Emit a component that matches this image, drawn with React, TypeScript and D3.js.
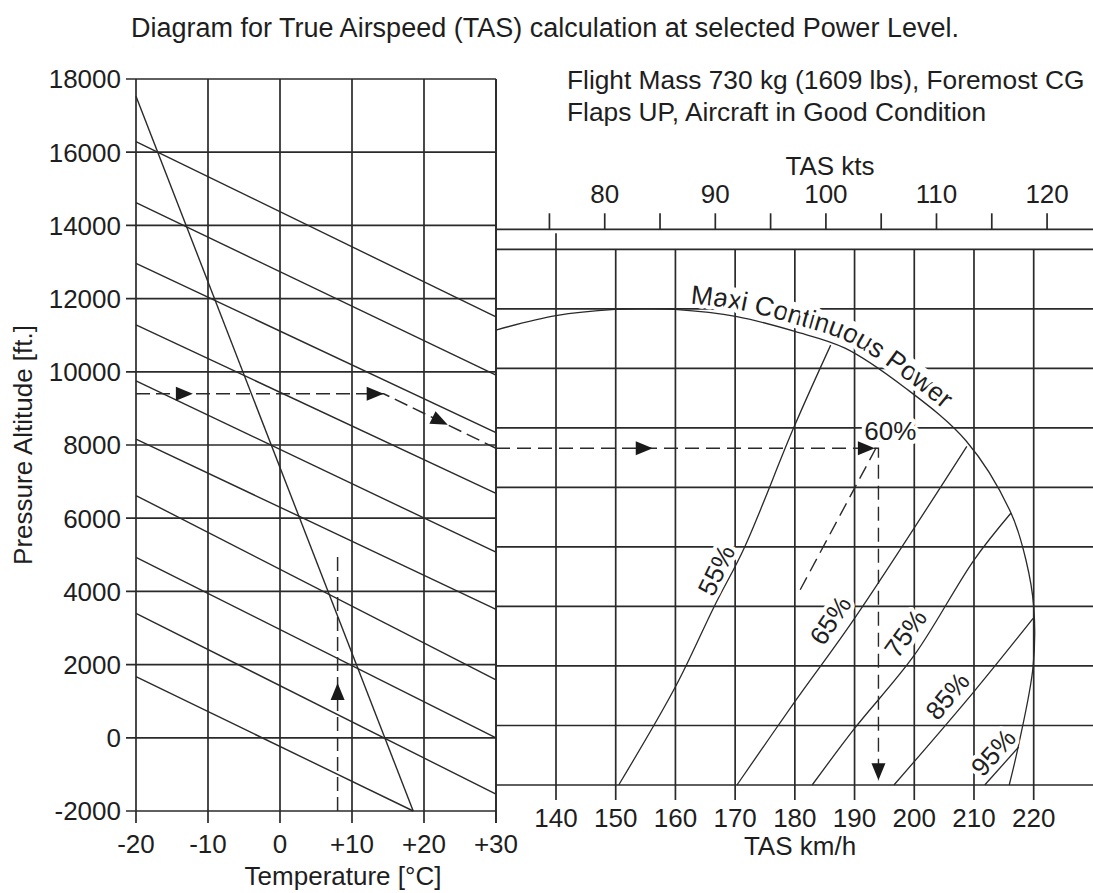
import React from "react";
import * as d3 from "d3";

// ---------- Left panel: pressure altitude vs temperature ----------
const tempTicks = [-20, -10, 0, 10, 20, 30];
const tempLabels = ["-20", "-10", "0", "+10", "+20", "+30"];
const altTicks = [-2000, 0, 2000, 4000, 6000, 8000, 10000, 12000, 14000, 16000, 18000];

// density-altitude lines (start at -20 °C, end on right edge or bottom)
const daStartAlt = [16290, 14620, 12960, 11280, 9750, 8160, 6620, 4930, 3400, 1670];
const daEndTemp = [30, 30, 30, 30, 30, 30, 30, 30, 30, 18.5];
const daEndAlt = [11500, 9910, 8340, 6680, 5070, 3510, 1580, 0, -1540, -2000];

// ISA line
const isaTemp = [-20, 18.5];
const isaAlt = [17530, -2000];

// example readout (left)
const readTemp = [-20, 14.4, 30];
const readAlt = [9400, 9400, 7910];
const oatTemp = 8;
const oatAlt = [-2000, 4990];

// ---------- Right panel: TAS ----------
const kmhTicks = [140, 150, 160, 170, 180, 190, 200, 210, 220];
const ktsTicks = [75, 80, 85, 90, 95, 100, 105, 110, 115, 120];
const ktsLabelTicks = [80, 90, 100, 110, 120];
const rowLines = [0, 1, 2, 3, 4, 5, 6, 7, 8, 9];

// Maxi Continuous Power envelope
const mcpKmh = [129.95, 140, 149.9, 155, 159.9, 170.3, 180, 188.4, 198.5, 208.7, 216.2, 218.7, 220, 219.9, 217.4, 215.9];
const mcpRow = [7.644, 7.885, 7.99, 8.0, 7.99, 7.87, 7.62, 7.34, 6.67, 5.78, 4.57, 3.78, 3.0, 1.99, 0.64, 0];

// power-setting lines
const p55Kmh = [150.5, 160, 166.5, 171.6, 179.8, 186];
const p55Row = [0, 1.65, 3, 4, 6, 7.39];
const p65Kmh = [170.3, 180, 190, 208.8];
const p65Row = [0, 1.4, 2.8, 5.69];
const p75Kmh = [182.9, 190, 200, 210, 216.2];
const p75Row = [0, 0.95, 2.18, 3.78, 4.57];
const p85Kmh = [196.6, 210, 219.9];
const p85Row = [0, 1.57, 2.8];
const p95Kmh = [211.8, 217.5];
const p95Row = [0, 0.64];
const p60Kmh = [180.9, 194.6];
const p60Row = [3.28, 5.85];

const pctLabels = ["55%", "65%", "75%", "85%", "95%"];

// example readout (right)
const readTasKmh = 194.0;
const readEndRow = 0.08;

const FONT = "'Liberation Sans', Arial, Helvetica, sans-serif";
const INK = "#2a2a2a";
const TXT = "#1e1e1e";

const zip = (a: number[], b: number[]) => a.map((v, i) => [v, b[i]]);

function Arrow({ x, y, angle }: { x: number; y: number; angle: number }) {
  return (
    <path
      d="M0,0 L-17,-7 L-17,7 Z"
      fill="#1a1a1a"
      transform={`translate(${x},${y}) rotate(${angle})`}
    />
  );
}

export default function App() {
  const W = 1093;
  const H = 893;

  const xT = d3.scaleLinear().domain([-20, 30]).range([136, 496]);
  const yA = d3.scaleLinear().domain([-2000, 18000]).range([811, 79]);
  const xK = d3.scaleLinear().domain([140, 220]).range([556, 1033.7]);
  const yR = d3.scaleLinear().domain([0, 9]).range([785, 249.3]);
  const KT = 1.852;

  const leftLine = d3.line<number[]>().x((d) => xT(d[0])).y((d) => yA(d[1]));
  const rightLine = d3.line<number[]>().x((d) => xK(d[0])).y((d) => yR(d[1]));
  const rightCurve = d3
    .line<number[]>()
    .x((d) => xK(d[0]))
    .y((d) => yR(d[1]))
    .curve(d3.curveCatmullRom.alpha(0.5));
  const pxCurve = d3.line<number[]>().curve(d3.curveCatmullRom.alpha(0.5));

  const leftX0 = xT(-20);
  const leftX1 = xT(30);
  const rightX0 = leftX1;
  const ktsAxisY = yR(9) - 20;

  // readout connection into right panel
  const rowStart = yR.invert(yA(readAlt[2]));
  const kmhStart = xK.invert(rightX0);
  const readRight = [
    [kmhStart, rowStart],
    [readTasKmh, rowStart],
    [readTasKmh, readEndRow],
  ];

  // label path for "Maxi Continuous Power"
  const cx = xK(157);
  const cy = yR(2.6);
  const mcpPx = zip(mcpKmh, mcpRow).map((d) => [xK(d[0]), yR(d[1])]);
  const offsetPts = (off: number) =>
    mcpPx.map(([x, y]) => {
      const dx = x - cx;
      const dy = y - cy;
      const L = Math.hypot(dx, dy);
      return [x + (dx / L) * off, y + (dy / L) * off] as [number, number];
    });
  const labelOff = 7;
  const bandOff = 16.5;
  const labelStart = 200;
  const scaleBand = 1.03;

  const powerSets = [
    zip(p55Kmh, p55Row),
    zip(p65Kmh, p65Row),
    zip(p75Kmh, p75Row),
    zip(p85Kmh, p85Row),
    zip(p95Kmh, p95Row),
  ];
  const pctPos = [
    [166.8, 3.61],
    [185.9, 2.77],
    [198.5, 2.55],
    [205.5, 1.5],
    [213.2, 0.55],
  ];

  const angleOf = (pts: number[][], X: (v: number) => number, Y: (v: number) => number) => {
    const a = pts[0];
    const b = pts[pts.length - 1];
    return (Math.atan2(Y(b[1]) - Y(a[1]), X(b[0]) - X(a[0])) * 180) / Math.PI;
  };

  // left arrows
  const slantAngle = angleOf([[readTemp[1], readAlt[1]], [readTemp[2], readAlt[2]]], xT, yA);
  const slantTipT = 23.3;
  const slantTipA =
    readAlt[1] + ((slantTipT - readTemp[1]) / (readTemp[2] - readTemp[1])) * (readAlt[2] - readAlt[1]);

  const halo = { stroke: "#fff", strokeWidth: 8, paintOrder: "stroke" as const, strokeLinejoin: "round" as const };

  return (
    <svg
      width={W}
      height={H}
      style={{ position: "absolute", left: 0, top: 0, background: "#fff" }}
      fontFamily={FONT}
    >
      <rect x={0} y={0} width={W} height={H} fill="#fff" />

      {/* Title */}
      <text x={545} y={37} textAnchor="middle" fontSize={27} fill={TXT}>
        Diagram for True Airspeed (TAS) calculation at selected Power Level.
      </text>
      <text x={567} y={89} fontSize={26.3} fill={TXT}>
        Flight Mass 730 kg (1609 lbs), Foremost CG
      </text>
      <text x={567} y={121} fontSize={26.3} fill={TXT}>
        Flaps UP, Aircraft in Good Condition
      </text>

      {/* ---------- Left panel grid ---------- */}
      <g stroke={INK} strokeWidth={1.7} fill="none">
        {altTicks.map((a) => (
          <line key={"ha" + a} x1={leftX0 - 10} x2={leftX1} y1={yA(a)} y2={yA(a)} />
        ))}
        {tempTicks.map((t) => (
          <line key={"vt" + t} x1={xT(t)} x2={xT(t)} y1={yA(18000)} y2={yA(-2000) + 12} />
        ))}
      </g>

      {/* density altitude lines + ISA */}
      <g stroke={INK} strokeWidth={1.4} fill="none">
        {daStartAlt.map((a, i) => (
          <path key={"da" + i} d={leftLine([[-20, a], [daEndTemp[i], daEndAlt[i]]]) || ""} />
        ))}
        <path d={leftLine(zip(isaTemp, isaAlt)) || ""} />
      </g>

      {/* left readout */}
      <g stroke={INK} strokeWidth={1.5} fill="none" strokeDasharray="14,6">
        <path d={leftLine(zip(readTemp, readAlt)) || ""} />
        <path d={leftLine([[oatTemp, oatAlt[0]], [oatTemp, oatAlt[1]]]) || ""} />
      </g>
      <Arrow x={xT(-12.1)} y={yA(readAlt[0])} angle={0} />
      <Arrow x={xT(readTemp[1])} y={yA(readAlt[1])} angle={0} />
      <Arrow x={xT(slantTipT)} y={yA(slantTipA)} angle={slantAngle} />
      <Arrow x={xT(oatTemp)} y={yA(1500)} angle={-90} />

      {/* left axes labels */}
      <g fontSize={26} fill={TXT}>
        {altTicks.map((a) => (
          <text key={"la" + a} x={leftX0 - 15} y={yA(a)} dy="0.36em" textAnchor="end">
            {a}
          </text>
        ))}
        {tempTicks.map((t, i) => (
          <text key={"lt" + t} x={xT(t)} y={yA(-2000) + 42} textAnchor="middle">
            {tempLabels[i]}
          </text>
        ))}
        <text x={343} y={885} textAnchor="middle">
          Temperature [°C]
        </text>
        <text transform={`translate(32,${(yA(18000) + yA(-2000)) / 2}) rotate(-90)`} textAnchor="middle">
          Pressure Altitude [ft.]
        </text>
      </g>

      {/* ---------- Right panel grid ---------- */}
      <g stroke={INK} strokeWidth={1.7} fill="none">
        <line x1={rightX0} x2={rightX0} y1={yA(18000)} y2={yA(-2000) + 12} />
        <line x1={rightX0} x2={W} y1={ktsAxisY} y2={ktsAxisY} />
        {rowLines.map((r) => (
          <line key={"hr" + r} x1={rightX0} x2={W} y1={yR(r)} y2={yR(r)} />
        ))}
        {kmhTicks.map((k, i) => (
          <line
            key={"vk" + k}
            x1={xK(k)}
            x2={xK(k)}
            y1={i === 0 ? ktsAxisY + 4 : yR(9)}
            y2={yR(0) + 15}
          />
        ))}
        {ktsTicks.map((k) => (
          <line key={"tk" + k} x1={xK(k * KT)} x2={xK(k * KT)} y1={ktsAxisY - 16} y2={ktsAxisY} />
        ))}
      </g>

      {/* white band behind the envelope label */}
      <path
        d={pxCurve(offsetPts(bandOff)) || ""}
        fill="none"
        stroke="#fff"
        strokeWidth={24}
        strokeDasharray={`0 ${labelStart * scaleBand - 4} ${288} 5000`}
      />

      {/* power lines */}
      <g stroke={INK} strokeWidth={1.3} fill="none">
        {powerSets.map((pts, i) => (
          <path key={"p" + i} d={rightCurve(pts) || ""} />
        ))}
        <path d={rightCurve(zip(mcpKmh, mcpRow)) || ""} />
      </g>
      <g stroke={INK} strokeWidth={1.4} fill="none" strokeDasharray="14,7">
        <path d={rightLine(zip(p60Kmh, p60Row)) || ""} />
        <path d={rightLine(readRight) || ""} />
      </g>
      <Arrow x={xK(156.2)} y={yR(rowStart)} angle={0} />
      <Arrow x={xK(193.4)} y={yR(rowStart)} angle={0} />
      <Arrow x={xK(readTasKmh)} y={yR(readEndRow)} angle={90} />

      {/* labels */}
      <defs>
        <path id="mcpLabelPath" d={pxCurve(offsetPts(labelOff)) || ""} />
      </defs>
      <text fontSize={26.5} fill={TXT} {...halo}>
        <textPath href="#mcpLabelPath" startOffset={labelStart}>
          Maxi Continuous Power
        </textPath>
      </text>
      <g fontSize={26} fill={TXT}>
        {pctLabels.map((lab, i) => {
          const ang = angleOf(powerSets[i], xK, yR);
          return (
            <text
              key={lab}
              transform={`translate(${xK(pctPos[i][0])},${yR(pctPos[i][1])}) rotate(${ang})`}
              textAnchor="middle"
              dy="0.36em"
              {...halo}
            >
              {lab}
            </text>
          );
        })}
        <text x={xK(196.0)} y={yR(5.95)} dy="0.36em" textAnchor="middle" {...halo}>
          60%
        </text>
      </g>

      {/* right axes labels */}
      <g fontSize={26} fill={TXT}>
        {kmhTicks.map((k) => (
          <text key={"lk" + k} x={xK(k)} y={yR(0) + 42} textAnchor="middle">
            {k}
          </text>
        ))}
        {ktsLabelTicks.map((k) => (
          <text key={"lkt" + k} x={xK(k * KT)} y={ktsAxisY - 26} textAnchor="middle">
            {k}
          </text>
        ))}
        <text x={830} y={175} textAnchor="middle">
          TAS kts
        </text>
        <text x={800} y={855} textAnchor="middle">
          TAS km/h
        </text>
      </g>
    </svg>
  );
}
